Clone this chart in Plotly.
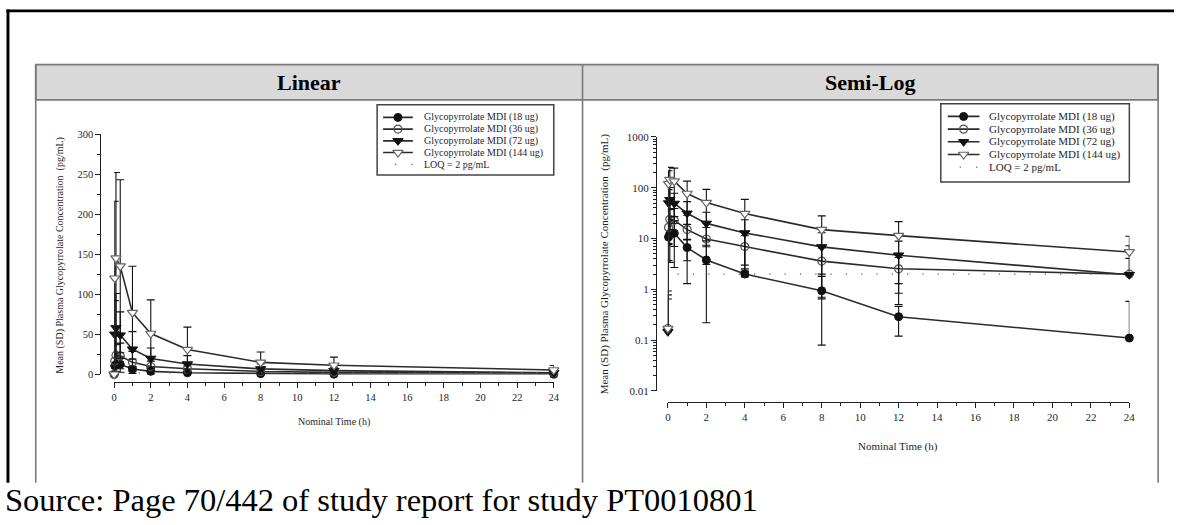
import plotly.graph_objects as go

W, H = 1180, 525

# Nominal sampling times (h)
times = [0, 0.033, 0.1, 0.333, 1, 2, 4, 8, 12, 24]

dose_names = [
    "Glycopyrrolate MDI (18 ug)",
    "Glycopyrrolate MDI (36 ug)",
    "Glycopyrrolate MDI (72 ug)",
    "Glycopyrrolate MDI (144 ug)",
]
loq_name = "LOQ = 2 pg/mL"
loq_value = 2

# Mean and SD plasma concentrations (pg/mL)
mean_18 = [0, 10.7, 12.4, 12.7, 6.65, 3.8, 2.0, 0.94, 0.29, 0.11]
sd_18 = [0, 7, 9, 10, 3.0, 3.58, 0.25, 0.86, 0.17, 0.47]
mean_36 = [0.17, 16.6, 24.0, 23.0, 15.0, 9.8, 6.95, 3.6, 2.54, 2.0]
sd_36 = [0.76, 9, 13, 16, 13.7, 6.7, 4.4, 2.9, 1.7, 2.07]
mean_72 = [0.146, 50, 58, 49, 31.4, 19.9, 12.9, 6.85, 4.7, 1.94]
sd_72 = [0.5, 42, 43, 29, 22, 13, 10.5, 6.2, 4.2, 5.3]
mean_144 = [0.17, 120, 145, 135, 77, 51, 31, 15, 11.4, 5.45]
sd_144 = [0.61, 96, 107, 108, 58, 42, 28, 13, 10.1, 5.65]

x_ticks = list(range(0, 25, 2))
lin_ticks = [0, 50, 100, 150, 200, 250, 300]
log_ticks = [0.01, 0.1, 1, 10, 100, 1000]
log_tick_text = ["0.01", "0.1", "1", "10", "100", "1000"]

means = [mean_18, mean_36, mean_72, mean_144]
sds = [sd_18, sd_36, sd_72, sd_144]

FONT = "Liberation Serif, Times New Roman, serif"
INK = "#1e1e2a"
LINE = "#2b2b2b"
BORDER = "#7a7a7a"

marker_styles = [
    dict(symbol="circle", size=8, color="#111", line=dict(color="#111", width=1)),
    dict(symbol="circle-open", size=8, color="#555", line=dict(color="#555", width=1.2)),
    dict(symbol="triangle-down", size=9, color="#111", line=dict(color="#111", width=1)),
    dict(symbol="triangle-down", size=9, color="white", line=dict(color="#666", width=1.2)),
]


def fx(px):
    return px / W


def fy(py):
    return 1 - py / H


fig = go.Figure()

# ---- data traces: linear panel (x/y) and semi-log panel (x2/y2)
for name, m, s, mk in zip(dose_names, means, sds, marker_styles):
    lin_minus = [min(sd, v) for v, sd in zip(m, s)]
    fig.add_trace(go.Scatter(
        x=times, y=m, mode="lines+markers", name=name, showlegend=False,
        line=dict(color=LINE, width=1.6), marker=mk, cliponaxis=False,
        error_y=dict(type="data", array=s, arrayminus=lin_minus, symmetric=False,
                     color="#111", thickness=1.1, width=4),
        xaxis="x", yaxis="y"))
    log_x = [t for t, v in zip(times, m) if v > 0]
    log_y = [v for v in m if v > 0]
    log_sd = [sd for v, sd in zip(m, s) if v > 0]
    log_minus = [sd if v - sd > 0 else 0 for v, sd in zip(log_y, log_sd)]
    fig.add_trace(go.Scatter(
        x=log_x, y=log_y, mode="lines+markers", name=name, showlegend=False,
        line=dict(color=LINE, width=1.6), marker=mk, cliponaxis=False,
        error_y=dict(type="data", array=log_sd, arrayminus=log_minus, symmetric=False,
                     color="#111", thickness=1.1, width=4),
        xaxis="x2", yaxis="y2"))

# LOQ reference lines
for xa, ya in (("x", "y"), ("x2", "y2")):
    fig.add_trace(go.Scatter(
        x=[0.5, 24], y=[loq_value, loq_value], mode="lines", showlegend=False,
        line=dict(color="#666", width=1.3, dash="1.3px,14px"),
        xaxis=xa, yaxis=ya, hoverinfo="skip"))

# ---- custom legends (axes laid out in pixel units over each legend box)
legend_boxes = {
    "3": dict(x0=377, x1=555, y0=101, y1=173, line=(383, 413), mark=398, text=422,
              rows=[114, 126, 138, 150, 162], size=10),
    "4": dict(x0=945, x1=1135, y0=100, y1=180, line=(952, 984), mark=968, text=992,
              rows=[113, 126, 139, 152, 165], size=11),
}
annotations = []
shapes = []
for key, b in legend_boxes.items():
    xa, ya = "x" + key, "y" + key
    for name, mk, row in zip(dose_names, marker_styles, b["rows"]):
        fig.add_trace(go.Scatter(
            x=list(b["line"]), y=[row, row], mode="lines", showlegend=False,
            line=dict(color=LINE, width=1.6), xaxis=xa, yaxis=ya, hoverinfo="skip"))
        fig.add_trace(go.Scatter(
            x=[b["mark"]], y=[row], mode="markers", showlegend=False,
            marker=mk, xaxis=xa, yaxis=ya, hoverinfo="skip", cliponaxis=False))
        annotations.append(dict(x=b["text"], y=row, xref=xa, yref=ya, text=name,
                                showarrow=False, xanchor="left", yanchor="middle",
                                font=dict(family=FONT, size=b["size"], color=INK)))
    loq_row = b["rows"][-1]
    fig.add_trace(go.Scatter(
        x=[b["line"][0] + 12, b["line"][1]], y=[loq_row, loq_row], mode="lines",
        showlegend=False, line=dict(color="#666", width=1.3, dash="1.3px,15px"),
        xaxis=xa, yaxis=ya, hoverinfo="skip"))
    annotations.append(dict(x=b["text"], y=loq_row, xref=xa, yref=ya, text=loq_name,
                            showarrow=False, xanchor="left", yanchor="middle",
                            font=dict(family=FONT, size=b["size"], color=INK)))
    shapes.append(dict(type="rect", xref="paper", yref="paper",
                       x0=fx(b["x0"]), x1=fx(b["x1"]), y0=fy(b["y1"]), y1=fy(b["y0"]),
                       line=dict(color="#444", width=1.5)))

# ---- table frame and header band
shapes += [
    dict(type="rect", xref="paper", yref="paper", x0=fx(33), x1=fx(1164), y0=fy(96), y1=fy(60),
         fillcolor="#d9d9d9", line=dict(color=BORDER, width=1.8), layer="below"),
    dict(type="line", xref="paper", yref="paper", x0=fx(33), x1=fx(33), y0=fy(488), y1=fy(60),
         line=dict(color=BORDER, width=1.6)),
    dict(type="line", xref="paper", yref="paper", x0=fx(584), x1=fx(584), y0=fy(488), y1=fy(60),
         line=dict(color=BORDER, width=1.6)),
    dict(type="line", xref="paper", yref="paper", x0=fx(1164), x1=fx(1164), y0=fy(488), y1=fy(60),
         line=dict(color=BORDER, width=1.6)),
    # page border (top edge and left edge)
    dict(type="rect", xref="paper", yref="paper", x0=fx(3.5), x1=fx(1180), y0=fy(6.5), y1=fy(3.5),
         fillcolor="black", line=dict(width=0)),
    dict(type="rect", xref="paper", yref="paper", x0=fx(3.5), x1=fx(6.5), y0=fy(488), y1=fy(3.5),
         fillcolor="black", line=dict(width=0)),
]

annotations += [
    dict(x=fx(308), y=fy(78), xref="paper", yref="paper", text="<b>Linear</b>", showarrow=False,
         font=dict(family=FONT, size=22, color="black"), xanchor="center", yanchor="middle"),
    dict(x=fx(874), y=fy(78), xref="paper", yref="paper", text="<b>Semi-Log</b>", showarrow=False,
         font=dict(family=FONT, size=22, color="black"), xanchor="center", yanchor="middle"),
    dict(x=fx(58), y=fy(255), xref="paper", yref="paper", textangle=-90, showarrow=False,
         text="Mean (SD) Plasma Glycopyrrolate Concentration  (pg/mL)",
         font=dict(family=FONT, size=10, color=INK), xanchor="center", yanchor="middle"),
    dict(x=fx(607), y=fy(264), xref="paper", yref="paper", textangle=-90, showarrow=False,
         text="Mean (SD) Plasma Glycopyrrolate Concentration  (pg/mL)",
         font=dict(family=FONT, size=11, color=INK), xanchor="center", yanchor="middle"),
    dict(x=fx(334), y=fy(426), xref="paper", yref="paper", text="Nominal Time (h)", showarrow=False,
         font=dict(family=FONT, size=10, color=INK), xanchor="center", yanchor="middle"),
    dict(x=fx(902), y=fy(451), xref="paper", yref="paper", text="Nominal Time (h)", showarrow=False,
         font=dict(family=FONT, size=11, color=INK), xanchor="center", yanchor="middle"),
    dict(x=0, y=fy(506), xref="paper", yref="paper", showarrow=False,
         text="Source: Page 70/442 of study report for study PT0010801",
         font=dict(family=FONT, size=32.5, color="black"), xanchor="left", yanchor="middle"),
]

axis_common = dict(showgrid=False, zeroline=False, showline=True, linecolor=INK, linewidth=1,
                   ticks="outside", ticklen=5, tickwidth=1, tickcolor=INK,
                   tickfont=dict(family=FONT, size=10.5, color=INK), anchor="free")

hidden = dict(visible=False, showgrid=False, zeroline=False, fixedrange=True)
lb3, lb4 = legend_boxes["3"], legend_boxes["4"]

fig.update_layout(
    width=W, height=H, margin=dict(l=0, r=0, t=0, b=0),
    paper_bgcolor="white", plot_bgcolor="rgba(0,0,0,0)", showlegend=False,
    xaxis=dict(axis_common, domain=[fx(112), fx(555)], range=[0, 24], position=fy(385),
               tickvals=x_ticks, minor=dict(ticks="outside", ticklen=3, dtick=1, tickcolor=INK)),
    yaxis=dict(axis_common, domain=[fy(377), fy(131)], range=[0, 300], position=fx(98),
               tickvals=lin_ticks, minor=dict(ticks="outside", ticklen=3, dtick=25, tickcolor=INK)),
    xaxis2=dict(axis_common, domain=[fx(670), fx(1135)], range=[0, 24], position=fy(405),
                tickvals=x_ticks, tickfont=dict(family=FONT, size=11, color=INK),
                minor=dict(ticks="outside", ticklen=3, dtick=1, tickcolor=INK)),
    yaxis2=dict(axis_common, type="log", domain=[fy(394), fy(134)], range=[-2, 3], position=fx(658),
                tickvals=log_ticks, ticktext=log_tick_text,
                tickfont=dict(family=FONT, size=11, color=INK),
                minor=dict(ticks="outside", ticklen=3, tickcolor=INK,
                           tickvals=[k * 10 ** e for e in range(-2, 3) for k in range(2, 10)])),
    xaxis3=dict(hidden, domain=[fx(lb3["x0"]), fx(lb3["x1"])], range=[lb3["x0"], lb3["x1"]], anchor="y3"),
    yaxis3=dict(hidden, domain=[fy(lb3["y1"]), fy(lb3["y0"])], range=[lb3["y1"], lb3["y0"]], anchor="x3"),
    xaxis4=dict(hidden, domain=[fx(lb4["x0"]), fx(lb4["x1"])], range=[lb4["x0"], lb4["x1"]], anchor="y4"),
    yaxis4=dict(hidden, domain=[fy(lb4["y1"]), fy(lb4["y0"])], range=[lb4["y1"], lb4["y0"]], anchor="x4"),
    shapes=shapes, annotations=annotations,
)

fig.write_html(
    "out.html",
    config={"displayModeBar": False},
    post_script="document.body.style.margin='0';document.body.style.overflow='hidden';",
)
